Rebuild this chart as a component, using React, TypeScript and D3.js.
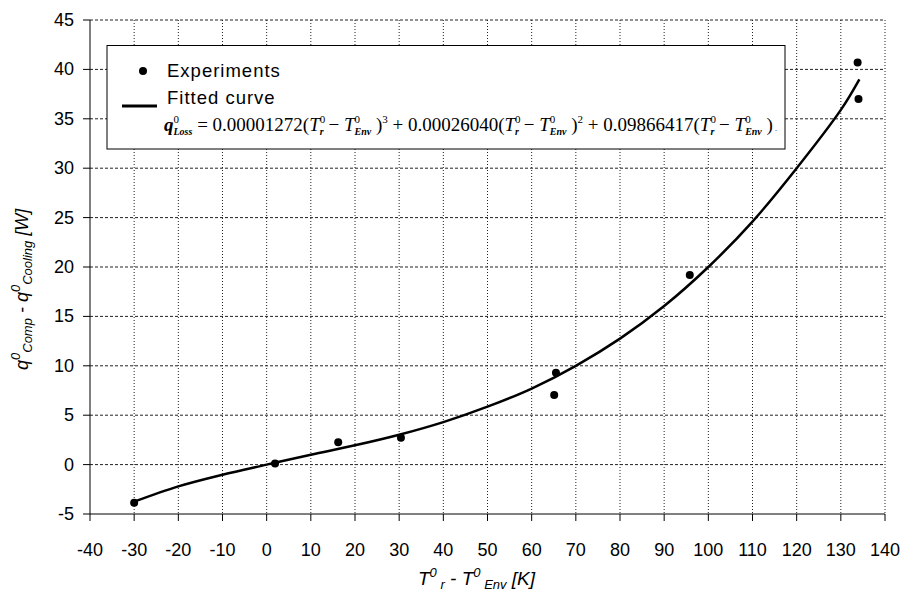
import React from "react";
import * as d3 from "d3";

const expX = [-30, 1.9, 16.2, 30.4, 65.5, 65.1, 95.8, 133.8, 134.0];
const expY = [-3.85, 0.1, 2.25, 2.73, 9.3, 7.05, 19.2, 40.7, 37.0];

const curveX = [-30, -20, -10, 0, 10, 20, 30, 40, 50, 60, 70, 80, 90, 100, 110, 120, 130, 134.2];
const curveY = [-3.75, -2.2, -1.02, 0, 1.0, 1.95, 3.02, 4.3, 5.86, 7.7, 10.0, 12.75, 16.05, 20.0, 24.6, 30.0, 35.9, 39.0];

const xTicks = d3.range(-40, 141, 10);
const yTicks = d3.range(-5, 46, 5);

const W = 904, H = 592;
const L = 90, R = 885, T = 20, B = 514;

export default function App() {
  const x = d3.scaleLinear().domain([-40, 140]).range([L, R]);
  const y = d3.scaleLinear().domain([-5, 45]).range([B, T]);
  const line = d3
    .line<number>()
    .x((_, i) => x(curveX[i]))
    .y((d) => y(d))
    .curve(d3.curveCatmullRom.alpha(0.5));

  const sans = "Arial, 'Liberation Sans', sans-serif";
  const serif = "'Times New Roman', 'Liberation Serif', serif";
  const fs = 19;
  const ss = 11;

  const Tterm = (sub: string, after: string, key: string) => (
    <React.Fragment key={key}>
      <tspan fontStyle="italic">T</tspan>
      <tspan fontSize={ss} dy={-8}>0</tspan>
      <tspan fontSize={ss - 1} fontStyle="italic" fontWeight="bold" dx={-5.5} dy={12}>{sub}</tspan>
      <tspan dy={-4}>{after}</tspan>
    </React.Fragment>
  );

  return (
    <svg width={W} height={H} style={{ position: "absolute", left: 0, top: 0, background: "#fff" }}>
      <rect x={0} y={0} width={W} height={H} fill="#fff" />
      {yTicks.filter((t) => t !== -5).map((t) => (
        <line key={"gy" + t} x1={L} x2={R} y1={y(t)} y2={y(t)} stroke="#222" strokeWidth={1} strokeDasharray="3,2" />
      ))}
      {xTicks.filter((t) => t !== -40).map((t) => (
        <line key={"gx" + t} x1={x(t)} x2={x(t)} y1={T} y2={B} stroke="#222" strokeWidth={1} strokeDasharray="1,2" />
      ))}
      <line x1={L} x2={L} y1={T} y2={B} stroke="#000" strokeWidth={1} />
      <line x1={L} x2={R} y1={B} y2={B} stroke="#000" strokeWidth={1} />
      {yTicks.map((t) => (
        <g key={"yt" + t}>
          <line x1={L - 7} x2={L} y1={y(t)} y2={y(t)} stroke="#000" />
          <text x={L - 16} y={y(t) + 6} textAnchor="end" fontFamily={sans} fontSize={18} fill="#000">{t}</text>
        </g>
      ))}
      {xTicks.map((t) => (
        <g key={"xt" + t}>
          <line x1={x(t)} x2={x(t)} y1={B} y2={B + 7} stroke="#000" />
          <text x={x(t)} y={B + 42} textAnchor="middle" fontFamily={sans} fontSize={18} fill="#000">{t}</text>
        </g>
      ))}
      <rect x={107} y={45.5} width={678} height={103.5} fill="#fff" stroke="#000" strokeWidth={1} />
      <circle cx={143} cy={71} r={4} fill="#000" />
      <text x={167} y={77} fontFamily={sans} fontSize={18.5} letterSpacing={1} fill="#000">Experiments</text>
      <line x1={122} x2={157} y1={106} y2={106} stroke="#000" strokeWidth={3} />
      <text x={167} y={104} fontFamily={sans} fontSize={18.5} letterSpacing={1} fill="#000">Fitted curve</text>
      <text x={164} y={131} fontFamily={serif} fontSize={fs} fill="#000">
        <tspan fontStyle="italic" fontWeight="bold">q</tspan>
        <tspan fontSize={ss} dy={-8}>0</tspan>
        <tspan fontSize={ss - 1} fontStyle="italic" fontWeight="bold" dx={-5.5} dy={12}>Loss</tspan>
        <tspan dy={-4}>{" = 0.00001272("}</tspan>
        {Tterm("r", " \u2212 ", "a1")}
        {Tterm("Env", " )", "a2")}
        <tspan fontSize={ss} dy={-8}>3</tspan>
        <tspan dy={8}>{" + 0.00026040("}</tspan>
        {Tterm("r", " \u2212 ", "b1")}
        {Tterm("Env", " )", "b2")}
        <tspan fontSize={ss} dy={-8}>2</tspan>
        <tspan dy={8}>{" + 0.09866417("}</tspan>
        {Tterm("r", " \u2212 ", "c1")}
        {Tterm("Env", " )", "c2")}
        <tspan fontSize={8}>{" ."}</tspan>
      </text>
      <path d={line(curveY) || ""} fill="none" stroke="#000" strokeWidth={2.5} />
      {expX.map((v, i) => (
        <circle key={"p" + i} cx={x(v)} cy={y(expY[i])} r={4} fill="#000" />
      ))}
      <text x={418} y={585} fontFamily={sans} fontStyle="italic" fontSize={19} fill="#000">
        <tspan>T</tspan>
        <tspan fontSize={13} dy={-8}>0</tspan>
        <tspan fontSize={13} dy={12}>{" r"}</tspan>
        <tspan dy={-4}>{" - T"}</tspan>
        <tspan fontSize={13} dy={-8}>0</tspan>
        <tspan fontSize={13} dy={12}>{" Env"}</tspan>
        <tspan dy={-4}>{" [K]"}</tspan>
      </text>
      <text transform="translate(28,370) rotate(-90)" fontFamily={sans} fontStyle="italic" fontSize={18} fill="#000">
        <tspan>q</tspan>
        <tspan fontSize={13} dy={-8}>0</tspan>
        <tspan fontSize={13} dy={12}>Comp</tspan>
        <tspan dy={-4}>{" - q"}</tspan>
        <tspan fontSize={13} dy={-8}>0</tspan>
        <tspan fontSize={13} dy={12}>Cooling</tspan>
        <tspan dy={-4}>{" [W]"}</tspan>
      </text>
    </svg>
  );
}
